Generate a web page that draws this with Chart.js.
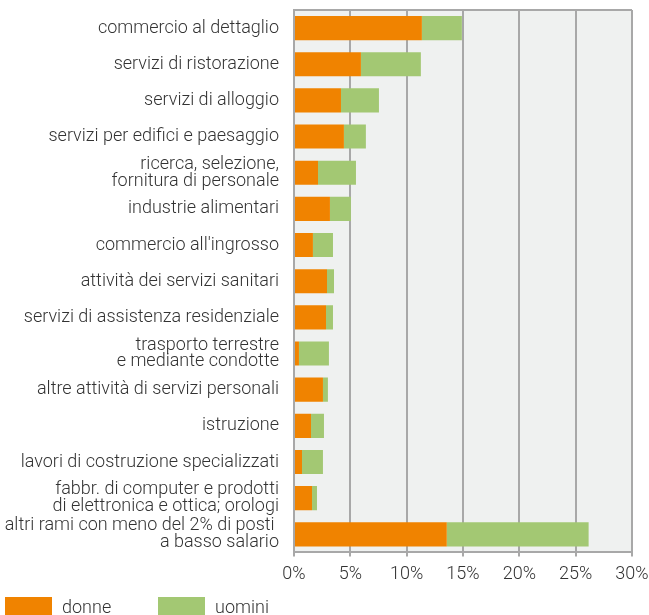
<!DOCTYPE html>
<html>
<head>
  <meta charset="UTF-8">
  <title>Posti a basso salario per ramo</title>
  <style>
    body {
      margin: 0;
      padding: 0;
      overflow: hidden;
      background: #fff;
      font-family: Roboto, sans-serif;
      font-weight: 300;
    }

    #chart-container {
      position: absolute;
      left: 0;
      top: 0;
      width: 649px;
      height: 600px;
    }

    #legend {
      position: absolute;
      left: 5px;
      top: 596px;
      display: flex;
      color: #333;
      font-size: 18px;
    }

    .item {
      width: 153px;
      display: flex;
      align-items: center;
    }

    .box {
      width: 47px;
      height: 20px;
      margin-right: 10px;
    }
  </style>
  <script src="https://cdn.jsdelivr.net/npm/chart.js"></script>
</head>
<body>
  <div id="chart-container">
    <canvas id="chart"></canvas>
  </div>
  <div id="legend"></div>

  <script>
    var categories = [
      'commercio al dettaglio',
      'servizi di ristorazione',
      'servizi di alloggio',
      'servizi per edifici e paesaggio',
      ['ricerca, selezione,', 'fornitura di personale'],
      'industrie alimentari',
      "commercio all'ingrosso",
      'attività dei servizi sanitari',
      'servizi di assistenza residenziale',
      ['trasporto terrestre', 'e mediante condotte'],
      'altre attività di servizi personali',
      'istruzione',
      'lavori di costruzione specializzati',
      ['fabbr. di computer e prodotti', 'di elettronica e ottica; orologi'],
      ['altri rami con meno del 2% di posti ', 'a basso salario']
    ];

    var donne = [11.35, 5.94, 4.17, 4.43, 2.13, 3.19, 1.68, 2.93, 2.84, 0.44, 2.57, 1.51, 0.71, 1.6, 13.56];
    var uomini = [3.55, 5.32, 3.37, 1.95, 3.37, 1.86, 1.78, 0.62, 0.62, 2.66, 0.44, 1.15, 1.86, 0.44, 12.59];

    var seriesNames = ['donne', 'uomini'];
    var seriesColors = ['#f08300', '#a3c873'];

    var gridColor = '#a8a8a8';
    var textColor = '#333333';

    // sfondo grigio e bordo superiore dell'area del grafico
    var plotBackground = {
      id: 'plotBackground',
      beforeDraw: function (chart) {
        var a = chart.chartArea;
        var ctx = chart.ctx;
        ctx.save();
        ctx.fillStyle = '#eff1f0';
        ctx.fillRect(a.left, a.top, a.right - a.left, a.bottom - a.top);
        ctx.strokeStyle = gridColor;
        ctx.lineWidth = 2;
        ctx.beginPath();
        ctx.moveTo(a.left, a.top);
        ctx.lineTo(a.right, a.top);
        ctx.stroke();
        ctx.restore();
      }
    };

    var ctx = document.getElementById('chart').getContext('2d');
    var chart = new Chart(ctx, {
      type: 'bar',
      data: {
        labels: categories,
        datasets: [
          { label: seriesNames[0], data: donne, backgroundColor: seriesColors[0] },
          { label: seriesNames[1], data: uomini, backgroundColor: seriesColors[1] }
        ]
      },
      options: {
        indexAxis: 'y',
        responsive: true,
        maintainAspectRatio: false,
        animation: false,
        layout: {
          padding: { top: 10, right: 17, bottom: 8, left: 0 }
        },
        datasets: {
          bar: { barPercentage: 0.667, categoryPercentage: 1 }
        },
        plugins: {
          legend: { display: false },
          tooltip: { enabled: false }
        },
        scales: {
          x: {
            stacked: true,
            min: 0,
            max: 30,
            afterFit: function (scale) {
              scale.paddingLeft = 0;
              scale.paddingRight = 0;
            },
            ticks: {
              stepSize: 5,
              padding: 7,
              color: textColor,
              font: { family: 'Roboto', size: 18, weight: 300 },
              callback: function (v) { return v + '%'; }
            },
            grid: { color: gridColor, lineWidth: 2, tickLength: 4, drawTicks: true },
            border: { color: gridColor, width: 2 }
          },
          y: {
            stacked: true,
            afterFit: function (scale) {
              scale.width = 294;
              scale.paddingTop = 0;
              scale.paddingBottom = 0;
            },
            ticks: {
              autoSkip: false,
              padding: 15,
              color: textColor,
              font: { family: 'Roboto', size: 18, weight: 300, lineHeight: 0.93 }
            },
            grid: { display: false, drawTicks: false },
            border: { color: gridColor, width: 2, z: 1 }
          }
        }
      },
      plugins: [plotBackground]
    });

    var legend = document.getElementById('legend');
    chart.data.datasets.forEach(function (ds) {
      var item = document.createElement('div');
      item.className = 'item';
      var box = document.createElement('span');
      box.className = 'box';
      box.style.background = ds.backgroundColor;
      var txt = document.createElement('span');
      txt.textContent = ds.label;
      item.appendChild(box);
      item.appendChild(txt);
      legend.appendChild(item);
    });
  </script>
</body>
</html>
